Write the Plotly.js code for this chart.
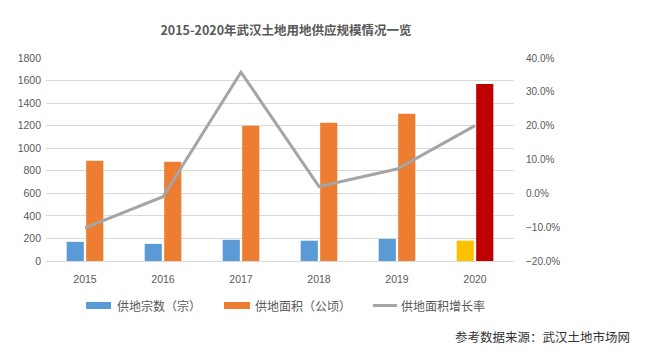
<!DOCTYPE html>
<html><head><meta charset="utf-8">
<script src="https://cdn.plot.ly/plotly-3.0.1.min.js"></script>
<style>body{margin:0;background:#fff}#c{width:652px;height:352px}</style>
</head><body><div id="c"></div>
<script>
const years = ['2015','2016','2017','2018','2019','2020'];
const landCount = [170, 152, 188, 180, 195, 180];
const landArea = [890, 880, 1200, 1226, 1305, 1570];
const areaGrowth = [-0.102, -0.010, 0.358, 0.020, 0.072, 0.200];
const countColors = ['#5B9BD5','#5B9BD5','#5B9BD5','#5B9BD5','#5B9BD5','#FFC000'];
const areaColors = ['#ED7D31','#ED7D31','#ED7D31','#ED7D31','#ED7D31','#C00000'];
const seriesNames = ['供地宗数（宗）', '供地面积（公顷）', '供地面积增长率'];
const chartTitle = '2015-2020年武汉土地用地供应规模情况一览';
const sourceNote = '参考数据来源：武汉土地市场网';

const fontNum = 'Liberation Sans, Arial, sans-serif';
const fontCJK = 'Noto Sans CJK SC, sans-serif';
const W = 652, H = 352, ML = 46, MR = 138, MT = 58, MB = 91;
function px2x(px){return (px-ML)/(W-ML-MR);}
function px2y(py){return (H-MB-py)/(H-MT-MB);}

const traces = [
  {type:'bar', name:seriesNames[0], x:years, y:landCount, marker:{color:countColors}, hoverinfo:'none'},
  {type:'bar', name:seriesNames[1], x:years, y:landArea, marker:{color:areaColors}, hoverinfo:'none'},
  {type:'scatter', mode:'lines', name:seriesNames[2], x:years, y:areaGrowth, yaxis:'y2',
   line:{color:'#A5A5A5', width:3}, hoverinfo:'none'}
];

const legendShapes = [
  {type:'rect', xref:'paper', yref:'paper', x0:px2x(86), x1:px2x(111), y0:px2y(309), y1:px2y(302),
   fillcolor:'#5B9BD5', line:{width:0}},
  {type:'rect', xref:'paper', yref:'paper', x0:px2x(224), x1:px2x(250), y0:px2y(309), y1:px2y(302),
   fillcolor:'#ED7D31', line:{width:0}},
  {type:'line', xref:'paper', yref:'paper', x0:px2x(373), x1:px2x(397), y0:px2y(305.5), y1:px2y(305.5),
   line:{color:'#A5A5A5', width:3}}
];
const legendText = [[115, seriesNames[0]], [253, seriesNames[1]], [399, seriesNames[2]]].map(function(d){
  return {text:d[1], xref:'paper', yref:'paper', x:px2x(d[0]), xanchor:'left', y:px2y(305.5), yanchor:'middle',
          showarrow:false, font:{family:fontCJK, size:12, color:'#595959'}};
});

const layout = {
  width:W, height:H,
  margin:{l:ML, r:MR, t:MT, b:MB},
  paper_bgcolor:'#fff', plot_bgcolor:'#fff',
  font:{family:fontNum, size:10, color:'#595959'},
  title:{text:'<b>'+chartTitle+'</b>', font:{family:fontCJK, size:12.5, color:'#595959'},
         x:286/W, xanchor:'center', y:1-31/H, yanchor:'middle'},
  barmode:'group', bargap:0.5, bargroupgap:0.12,
  xaxis:{type:'category', showgrid:false, zeroline:false, showline:true, linecolor:'#D9D9D9', linewidth:1,
         ticks:'', ticklabelstandoff:8, tickfont:{family:fontNum, size:10.5, color:'#595959'}, fixedrange:true},
  yaxis:{range:[0,1800], dtick:200, showgrid:true, gridcolor:'#D9D9D9', gridwidth:1, zeroline:false,
         showline:false, ticks:'', ticklabelstandoff:4, tickfont:{family:fontNum, size:10.5, color:'#595959'}},
  yaxis2:{range:[-0.2,0.4], dtick:0.1, tickformat:'.1%', overlaying:'y', side:'right', showgrid:false,
          zeroline:false, showline:false, ticks:'', ticklabelstandoff:11,
          tickfont:{family:fontNum, size:10, color:'#595959'}},
  showlegend:false,
  shapes:legendShapes,
  annotations:legendText.concat([
    {text:sourceNote, xref:'paper', yref:'paper', x:px2x(632), xanchor:'right',
     y:px2y(336), yanchor:'middle', showarrow:false, font:{family:fontCJK, size:12.5, color:'#333333'}}
  ])
};
Plotly.newPlot('c', traces, layout, {displayModeBar:false, staticPlot:true});
</script>
</body></html>
